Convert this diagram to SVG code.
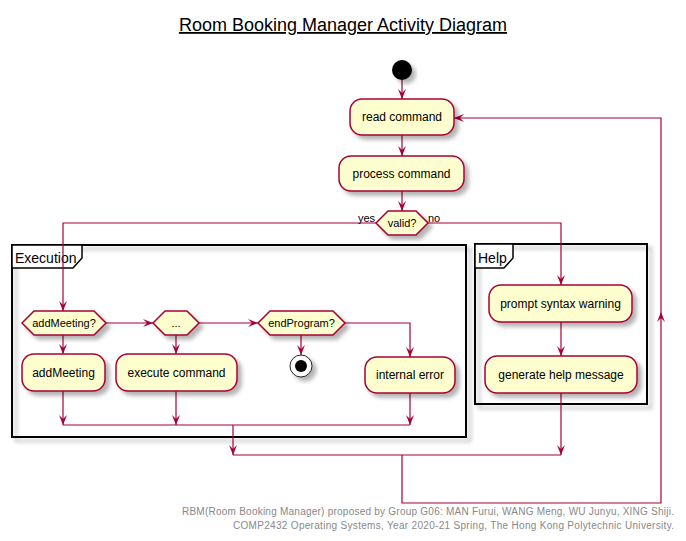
<svg xmlns="http://www.w3.org/2000/svg" width="686" height="541" viewBox="0 0 686 541">
<style>
text{font-family:"Liberation Sans",Arial,sans-serif;fill:#000}
.box{fill:#FEFECE;stroke:#A80036;stroke-width:1.5}
.frame{fill:none;stroke:#000;stroke-width:2}
.tab{fill:#fff;stroke:#000;stroke-width:1.5}
.c{fill:none;stroke:#A80036;stroke-width:1.2}
.t12{font-size:12px;text-anchor:middle}
.t11{font-size:11px;text-anchor:middle}
.lbl{font-size:11px}
.ft{font-size:10px;fill:#888;text-anchor:end}
</style>
<defs>
<filter id="sh" x="-20%" y="-20%" width="150%" height="150%">
<feGaussianBlur in="SourceAlpha" stdDeviation="2"/>
<feOffset dx="4" dy="4" result="b"/>
<feComponentTransfer><feFuncA type="linear" slope="0.3"/></feComponentTransfer>
<feMerge><feMergeNode/><feMergeNode in="SourceGraphic"/></feMerge>
</filter>
<marker id="ah" viewBox="0 0 10 8" refX="10" refY="4" markerWidth="10" markerHeight="8" markerUnits="userSpaceOnUse" orient="auto">
<path d="M0,0 L10,4 L0,8 L4,4 Z" fill="#A80036"/>
</marker>
</defs>
<rect width="686" height="541" fill="#fff"/>
<text x="343" y="31" style="font-size:18px;text-anchor:middle;text-decoration:underline">Room Booking Manager Activity Diagram</text>

<g id="frame-execution">
<rect class="frame" x="12" y="245" width="454" height="192" filter="url(#sh)"/>
<path class="tab" d="M12,245 L82,245 L82,258 L73,268 L12,268 Z"/>
<text x="15" y="263" style="font-size:14px">Execution</text>
</g>
<g id="frame-help">
<rect class="frame" x="475" y="244" width="172" height="160" filter="url(#sh)"/>
<path class="tab" d="M475,244 L513,244 L513,258 L504,268 L475,268 Z"/>
<text x="478" y="263" style="font-size:14px">Help</text>
</g>

<g id="connectors">
<path class="c" d="M402,80 L402,99" marker-end="url(#ah)"/>
<path class="c" d="M402,135 L402,156" marker-end="url(#ah)"/>
<path class="c" d="M402,191 L402,211" marker-end="url(#ah)"/>
<path class="c" d="M376,223 L63,223 L63,311" marker-end="url(#ah)"/>
<path class="c" d="M428,223 L561,223 L561,285" marker-end="url(#ah)"/>
<path class="c" d="M106,323 L153,323" marker-end="url(#ah)"/>
<path class="c" d="M199,323 L258,323" marker-end="url(#ah)"/>
<path class="c" d="M345,323 L410,323 L410,357" marker-end="url(#ah)"/>
<path class="c" d="M63,335 L63,354" marker-end="url(#ah)"/>
<path class="c" d="M176,335 L176,354" marker-end="url(#ah)"/>
<path class="c" d="M301,335 L301,355" marker-end="url(#ah)"/>
<path class="c" d="M63,391 L63,425" marker-end="url(#ah)"/>
<path class="c" d="M176,391 L176,425" marker-end="url(#ah)"/>
<path class="c" d="M410,393 L410,425" marker-end="url(#ah)"/>
<path class="c" d="M63,425 L410,425"/>
<path class="c" d="M233,425 L233,455" marker-end="url(#ah)"/>
<path class="c" d="M561,322 L561,356" marker-end="url(#ah)"/>
<path class="c" d="M561,393 L561,455" marker-end="url(#ah)"/>
<path class="c" d="M233,455 L561,455"/>
<path class="c" d="M402,455 L402,503 L661,503 L661,312" marker-end="url(#ah)"/>
<path class="c" d="M661,312 L661,118 L454,118" marker-end="url(#ah)"/>
<text class="lbl" x="358" y="222">yes</text>
<text class="lbl" x="428" y="222">no</text>
</g>

<g id="start"><circle cx="402" cy="70" r="10" fill="#000" filter="url(#sh)"/></g>
<g id="read-command"><rect class="box" x="350" y="99" width="104" height="36" rx="12" filter="url(#sh)"/><text class="t12" x="402" y="121">read command</text></g>
<g id="process-command"><rect class="box" x="339" y="156" width="125" height="35" rx="12" filter="url(#sh)"/><text class="t12" x="401.5" y="178">process command</text></g>
<g id="valid"><polygon class="box" points="376,223 388,211 416,211 428,223 416,235 388,235" filter="url(#sh)"/><text class="t11" x="402" y="227">valid?</text></g>

<g id="addMeeting-q"><polygon class="box" points="22,323 34,311 94,311 106,323 94,335 34,335" filter="url(#sh)"/><text class="t11" x="64" y="327">addMeeting?</text></g>
<g id="dots-q"><polygon class="box" points="153,323 165,311 187,311 199,323 187,335 165,335" filter="url(#sh)"/><text class="t11" x="176" y="327">...</text></g>
<g id="endProgram-q"><polygon class="box" points="258,323 270,311 333,311 345,323 333,335 270,335" filter="url(#sh)"/><text class="t11" x="301.5" y="327">endProgram?</text></g>
<g id="addMeeting"><rect class="box" x="22" y="354" width="83" height="37" rx="12" filter="url(#sh)"/><text class="t12" x="63.5" y="377">addMeeting</text></g>
<g id="execute-command"><rect class="box" x="116" y="354" width="121" height="37" rx="12" filter="url(#sh)"/><text class="t12" x="176.5" y="377">execute command</text></g>
<g id="stop"><circle cx="301" cy="366" r="11" fill="#fff" stroke="#222" stroke-width="1" filter="url(#sh)"/><circle cx="301" cy="366" r="6" fill="#000"/></g>
<g id="internal-error"><rect class="box" x="365" y="357" width="90" height="36" rx="12" filter="url(#sh)"/><text class="t12" x="410" y="379">internal error</text></g>

<g id="prompt-syntax-warning"><rect class="box" x="489" y="285" width="143" height="37" rx="12" filter="url(#sh)"/><text class="t12" x="560.5" y="308">prompt syntax warning</text></g>
<g id="generate-help-message"><rect class="box" x="485" y="356" width="152" height="37" rx="12" filter="url(#sh)"/><text class="t12" x="561" y="379">generate help message</text></g>

<text class="ft" x="674" y="515" textLength="492" lengthAdjust="spacing">RBM(Room Booking Manager) proposed by Group G06: MAN Furui, WANG Meng, WU Junyu, XING Shiji.</text>
<text class="ft" x="674" y="529" textLength="441" lengthAdjust="spacing">COMP2432 Operating Systems, Year 2020-21 Spring, The Hong Kong Polytechnic University.</text>
</svg>
